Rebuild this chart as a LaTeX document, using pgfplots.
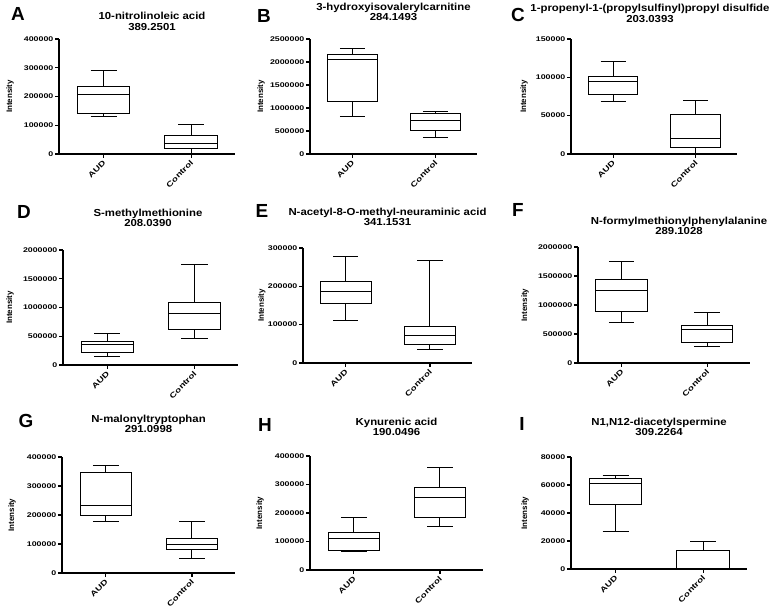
\documentclass[border=0pt]{standalone}
\usepackage{fontspec}
\setmainfont{Liberation Sans}
\newfontfamily\tickfont[FakeStretch=1.3]{Liberation Sans}
\newfontfamily\titlefont[FakeStretch=1.12]{Liberation Sans}
\usepackage{pgfplots}
\pgfplotsset{compat=1.18}
\usepgfplotslibrary{statistics}
\pgfplotsset{
  panel/.style={
    scale only axis, anchor=south west,
    axis x line*=bottom, axis y line*=left,
    axis line style={line width=1.1pt,-},
    every tick/.style={black, line width=1.1pt},
    tick align=outside, major tick length=4bp,
    xmin=0.49, xmax=2.5, ymin=0,
    xtick={1,2}, xticklabels={AUD,Control},
    x tick label style={yshift=-3bp, xshift=1.5bp, rotate=45, anchor=east, font=\tickfont\bfseries\fontsize{7.5}{7.5}\selectfont, inner sep=1pt},
    y tick label style={font=\tickfont\bfseries\fontsize{6.8}{6.8}\selectfont, inner sep=1.5pt},
    /pgf/number format/fixed, /pgf/number format/1000 sep={},
    /pgf/number format/assume math mode=true,
    scaled y ticks=false,
    ylabel={Intensity},
    ylabel style={font=\bfseries\fontsize{8}{8}\selectfont, anchor=center},
    title style={font=\titlefont\bfseries\fontsize{10.2}{10.5}\selectfont, align=center, anchor=center},
    boxplot/draw direction=y,
    boxplot/box extend=0.6,
    boxplot/whisker extend=0.3,
    clip=false,
  },
  bx/.style={draw=black, line width=1pt, solid, mark=none},
}
\begin{document}
\begin{tikzpicture}
\path[use as bounding box] (0,0) rectangle (771bp,610bp);
\tikzset{letter/.style={font=\bfseries\fontsize{19}{19}\selectfont, inner sep=0pt}}
\node[letter] at (18bp,596bp) {A};
\node[letter] at (264bp,594bp) {B};
\node[letter] at (518bp,595bp) {C};
\node[letter] at (24bp,398bp) {D};
\node[letter] at (262bp,399bp) {E};
\node[letter] at (518bp,400bp) {F};
\node[letter] at (26bp,189bp) {G};
\node[letter] at (265bp,185bp) {H};
\node[letter] at (522bp,186bp) {I};

% A
\begin{axis}[panel, at={(59bp,456bp)}, width=176bp, height=115bp,
  ymax=400000, ytick distance=100000,
  title={10-nitrolinoleic acid\\389.2501},
  title style={at={(rel axis cs:0.5,1)}, yshift=11.5bp, xshift=5bp},
  ylabel style={at={(rel axis cs:-0.278,0.5)}}]
\addplot[bx, boxplot prepared={draw position=1, lower whisker=130000, lower quartile=142000, median=208000, upper quartile=235000, upper whisker=290000}] coordinates {};
\addplot[bx, boxplot prepared={draw position=2, lower whisker=3000, lower quartile=20000, median=37000, upper quartile=66000, upper whisker=103000}] coordinates {};
\end{axis}

% B
\begin{axis}[panel, at={(310bp,456bp)}, width=167bp, height=115bp,
  ymax=2500000, ytick distance=500000,
  title={3-hydroxyisovalerylcarnitine\\284.1493},
  title style={at={(rel axis cs:0.5,1)}, yshift=21bp},
  ylabel style={at={(rel axis cs:-0.293,0.5)}}]
\addplot[bx, boxplot prepared={draw position=1, lower whisker=820000, lower quartile=1140000, median=2050000, upper quartile=2170000, upper whisker=2290000}] coordinates {};
\addplot[bx, boxplot prepared={draw position=2, lower whisker=350000, lower quartile=500000, median=720000, upper quartile=870000, upper whisker=930000}] coordinates {};
\end{axis}

% C
\begin{axis}[panel, at={(571bp,456bp)}, width=166bp, height=115bp,
  ymax=150000, ytick distance=50000,
  title={1-propenyl-1-(propylsulfinyl)propyl disulfide\\203.0393},
  title style={at={(rel axis cs:0.5,1)}, yshift=19.5bp, xshift=-4bp},
  ylabel style={at={(rel axis cs:-0.283,0.5)}}]
\addplot[bx, boxplot prepared={draw position=1, lower whisker=69000, lower quartile=78000, median=94000, upper quartile=101000, upper whisker=121000}] coordinates {};
\addplot[bx, boxplot prepared={draw position=2, lower whisker=1000, lower quartile=9000, median=20000, upper quartile=52000, upper whisker=70000}] coordinates {};
\end{axis}

% D
\begin{axis}[panel, at={(63bp,245bp)}, width=175bp, height=115bp,
  ymax=2000000, ytick distance=500000,
  title={S-methylmethionine\\208.0390},
  title style={at={(rel axis cs:0.5,1)}, yshift=26bp, xshift=-2.5bp},
  ylabel style={at={(rel axis cs:-0.303,0.5)}}]
\addplot[bx, boxplot prepared={draw position=1, lower whisker=140000, lower quartile=220000, median=360000, upper quartile=405000, upper whisker=555000}] coordinates {};
\addplot[bx, boxplot prepared={draw position=2, lower whisker=460000, lower quartile=620000, median=900000, upper quartile=1080000, upper whisker=1750000}] coordinates {};
\end{axis}

% E
\begin{axis}[panel, at={(303bp,247bp)}, width=169bp, height=115bp,
  ymax=300000, ytick distance=100000,
  title={N-acetyl-8-O-methyl-neuraminic acid\\341.1531},
  title style={at={(rel axis cs:0.5,1)}, yshift=25bp},
  ylabel style={at={(rel axis cs:-0.243,0.5)}}]
\addplot[bx, boxplot prepared={draw position=1, lower whisker=110000, lower quartile=155000, median=187000, upper quartile=213000, upper whisker=279000}] coordinates {};
\addplot[bx, boxplot prepared={draw position=2, lower whisker=35000, lower quartile=47000, median=72000, upper quartile=94000, upper whisker=267000}] coordinates {};
\end{axis}

% F
\begin{axis}[panel, at={(578bp,247bp)}, width=172bp, height=116bp,
  ymax=2000000, ytick distance=500000,
  title={N-formylmethionylphenylalanine\\289.1028},
  title style={at={(rel axis cs:0.5,1)}, yshift=15bp, xshift=15bp},
  ylabel style={at={(rel axis cs:-0.308,0.5)}}]
\addplot[bx, boxplot prepared={draw position=1, lower whisker=700000, lower quartile=896000, median=1253000, upper quartile=1443000, upper whisker=1747000}] coordinates {};
\addplot[bx, boxplot prepared={draw position=2, lower whisker=287000, lower quartile=345000, median=586000, upper quartile=638000, upper whisker=868000}] coordinates {};
\end{axis}

% G
\begin{axis}[panel, at={(62bp,37bp)}, width=173bp, height=116bp,
  ymax=400000, ytick distance=100000,
  title={N-malonyltryptophan\\291.0998},
  title style={at={(rel axis cs:0.5,1)}, yshift=27bp},
  ylabel style={at={(rel axis cs:-0.289,0.5)}}]
\addplot[bx, boxplot prepared={draw position=1, lower whisker=177000, lower quartile=198000, median=232000, upper quartile=345000, upper whisker=370000}] coordinates {};
\addplot[bx, boxplot prepared={draw position=2, lower whisker=50000, lower quartile=81000, median=98000, upper quartile=119000, upper whisker=176000}] coordinates {};
\end{axis}

% H
\begin{axis}[panel, at={(310bp,40bp)}, width=173bp, height=114bp,
  ymax=400000, ytick distance=100000,
  title={Kynurenic acid\\190.0496},
  title style={at={(rel axis cs:0.5,1)}, yshift=23bp},
  ylabel style={at={(rel axis cs:-0.289,0.5)}}]
\addplot[bx, boxplot prepared={draw position=1, lower whisker=64000, lower quartile=68000, median=111000, upper quartile=131000, upper whisker=185000}] coordinates {};
\addplot[bx, boxplot prepared={draw position=2, lower whisker=152000, lower quartile=185000, median=253000, upper quartile=291000, upper whisker=359000}] coordinates {};
\end{axis}

% I
\begin{axis}[panel, at={(571bp,41bp)}, width=176bp, height=112bp,
  ymax=80000, ytick distance=20000,
  title={N1,N12-diacetylspermine\\309.2264},
  title style={at={(rel axis cs:0.5,1)}, yshift=24bp},
  ylabel style={at={(rel axis cs:-0.261,0.5)}}]
\addplot[bx, boxplot prepared={draw position=1, lower whisker=27000, lower quartile=46000, median=61000, upper quartile=65000, upper whisker=66500}] coordinates {};
\addplot[bx, boxplot prepared={draw position=2, lower whisker=100, lower quartile=300, median=500, upper quartile=13300, upper whisker=19400}] coordinates {};
\end{axis}
\end{tikzpicture}
\end{document}
